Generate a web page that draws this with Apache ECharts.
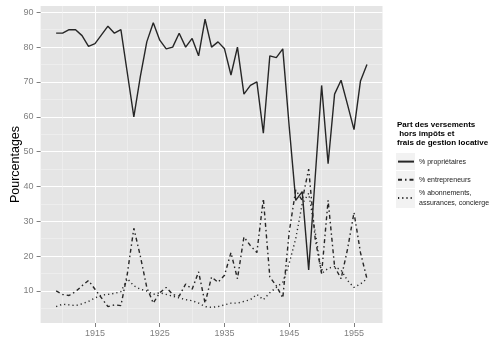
<!DOCTYPE html>
<html><head><meta charset="utf-8">
<script src="https://cdn.jsdelivr.net/npm/echarts@6/dist/echarts.min.js"></script>
<style>html,body{margin:0;padding:0;background:#fff}#c{width:503px;height:339px}</style>
</head><body><div id="c"></div>
<script>
const years = [1909,1910,1911,1912,1913,1914,1915,1916,1917,1918,1919,1920,1921,1922,1923,1924,1925,1926,1927,1928,1929,1930,1931,1932,1933,1934,1935,1936,1937,1938,1939,1940,1941,1942,1943,1944,1945,1946,1947,1948,1949,1950,1951,1952,1953,1954,1955,1956,1957];
const proprietaires = [84,84,85,85,83.3,80.2,81,83.5,86,84,85,72.5,60,71.5,81.5,87,82,79.5,80,84,80,82.5,77.5,88,80,81.5,79.5,72,80,66.5,69,70,55.3,77.5,77,79.5,57,36,38.5,16,42.5,69,46.5,66.5,70.5,63.5,56.3,70.3,75];
const entrepreneurs = [10,9,8.7,9.8,11.5,13,10.5,8,5.5,6,5.8,15,28,20,11,6.5,9.5,11,9,8.5,12,10.5,15.5,6.5,14,12.5,14.5,21,13.5,25.5,23,21,36.5,14,11.5,8,27,39,36,45,25,15,36,17,13.5,22,32.5,21,13.5];
const abonnements = [5.5,6.2,6,5.8,6.3,7,8,8.8,9,9.3,9.8,13.5,11.5,10.5,10,9,9.5,9,8.5,8,7.5,7.2,6.5,5.5,5.3,5.5,6,6.5,6.5,7,7.5,9,7.5,9.5,11,12.5,18,25,35,38,27,15,16.5,17,16,13,11,12,13.5];
const xTicks = [1915,1925,1935,1945,1955];
const xMinor = [1910,1920,1930,1940,1950];
const yTicks = [10,20,30,40,50,60,70,80,90];
const yMinor = [5,15,25,35,45,55,65,75,85];
const seriesNames = ['% propriétaires','% entrepreneurs','% abonnements,\nassurances, concierge'];
const legendTitle = 'Part des versements\n hors impôts et\nfrais de gestion locative';
const yTitle = 'Pourcentages';

const font = '"Liberation Sans", Arial, Helvetica, sans-serif';
const X_MIN = 1906.6, X_MAX = 1959.4, Y_MIN = 0.8, Y_MAX = 91.8;
function pairs(v){ return years.map((y,i)=>[y,v[i]]); }

const chart = echarts.init(document.getElementById('c'), null, {renderer:'canvas'});
const lineColor = '#262626';
const legendBase = {orient:'vertical',left:397,padding:0,itemWidth:16,itemHeight:14,selectedMode:false,
  itemStyle:{opacity:0},
  textStyle:{fontSize:7,color:'#222',lineHeight:10,fontFamily:font}};
chart.setOption({
  animation:false,
  backgroundColor:'#fff',
  textStyle:{fontFamily:font},
  grid:{left:40.6,right:120.5,top:6,bottom:16,show:true,backgroundColor:'#e5e5e5',borderWidth:0,containLabel:false,outerBoundsMode:'none'},
  title:{text:legendTitle,left:397,top:120,padding:0,textStyle:{fontSize:8,fontWeight:'bold',color:'#000',lineHeight:9.2,fontFamily:font}},
  legend:[
    Object.assign({},legendBase,{top:156,itemGap:7,data:seriesNames.slice(0,2)}),
    Object.assign({},legendBase,{top:188,itemGap:7,data:seriesNames.slice(2)})
  ],
  graphic:[
    {type:'rect',left:396,top:153,shape:{width:19,height:17},style:{fill:'#f2f2f2'},z:-1},
    {type:'rect',left:396,top:171,shape:{width:19,height:17},style:{fill:'#f2f2f2'},z:-1},
    {type:'rect',left:396,top:189,shape:{width:19,height:19},style:{fill:'#f2f2f2'},z:-1}
  ],
  xAxis:[
    {type:'value',min:X_MIN,max:X_MAX,position:'bottom',
     axisLine:{show:false},
     axisTick:{show:true,length:4,customValues:xTicks,lineStyle:{color:'#7f7f7f'}},
     axisLabel:{customValues:xTicks,formatter:v=>String(v),color:'#7f7f7f',fontSize:9,margin:6,fontFamily:font},
     splitLine:{show:true,lineStyle:{color:'#ffffff',width:1}}},
    {type:'value',min:X_MIN,max:X_MAX,position:'bottom',
     axisLine:{show:false},
     axisTick:{show:false,customValues:xMinor},
     axisLabel:{show:false,customValues:xMinor},
     splitLine:{show:true,lineStyle:{color:'#f2f2f2',width:0.6}}}
  ],
  yAxis:[
    {type:'value',min:Y_MIN,max:Y_MAX,position:'left',
     name:yTitle,nameLocation:'middle',nameGap:19,nameMoveOverlap:false,nameTextStyle:{fontSize:12.5,color:'#000',fontFamily:font},
     axisLine:{show:false},
     axisTick:{show:true,length:4,customValues:yTicks,lineStyle:{color:'#7f7f7f'}},
     axisLabel:{customValues:yTicks,formatter:v=>String(v),color:'#7f7f7f',fontSize:9,margin:7,fontFamily:font},
     splitLine:{show:true,lineStyle:{color:'#ffffff',width:1}}},
    {type:'value',min:Y_MIN,max:Y_MAX,position:'left',
     axisLine:{show:false},
     axisTick:{show:false,customValues:yMinor},
     axisLabel:{show:false,customValues:yMinor},
     splitLine:{show:true,lineStyle:{color:'#f2f2f2',width:0.6}}}
  ],
  series:[
    {name:seriesNames[0],type:'line',xAxisIndex:0,yAxisIndex:0,data:pairs(proprietaires),symbol:'none',
     lineStyle:{color:lineColor,width:1.4,type:'solid'},itemStyle:{color:lineColor}},
    {name:seriesNames[1],type:'line',xAxisIndex:0,yAxisIndex:0,data:pairs(entrepreneurs),symbol:'none',
     lineStyle:{color:lineColor,width:1.4,type:[4,3,1.5,3]},itemStyle:{color:lineColor}},
    {name:seriesNames[2],type:'line',xAxisIndex:0,yAxisIndex:0,data:pairs(abonnements),symbol:'none',
     lineStyle:{color:lineColor,width:1.4,type:[1.2,3]},itemStyle:{color:lineColor}}
  ]
});
</script></body></html>
